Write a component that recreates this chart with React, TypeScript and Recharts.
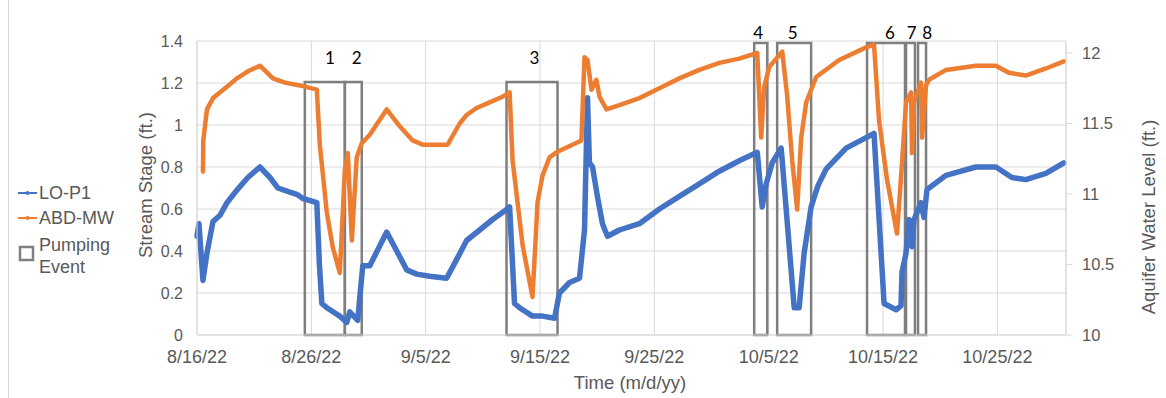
import React from 'react';
import {
  LineChart,
  Line,
  XAxis,
  YAxis,
  CartesianGrid,
  ReferenceArea,
  ReferenceDot,
} from 'recharts';

// Days since 8/16/22 and stream stage (ft.) for LO-P1 (left axis)
const loDays = [0, 0.17, 0.52, 0.87, 1.4, 2.01, 2.62, 3.49, 4.45, 5.5, 6.38, 7.07, 8.12, 8.73, 9.26, 10.48, 10.7, 10.92, 11.35, 12.49, 13.1, 13.36, 14.06, 14.24, 14.5, 15.11, 16.59, 17.47, 18.34, 19.21, 20.35, 21.83, 22.71, 23.58, 24.72, 25.85, 26.9, 27.34, 27.77, 28.21, 29.34, 30.22, 31.27, 31.7, 32.58, 33.45, 33.89, 34.15, 34.32, 34.59, 35.02, 35.46, 35.9, 36.94, 38.69, 40.44, 42.18, 43.93, 45.68, 47.42, 49.0, 49.43, 49.78, 50.31, 51.09, 52.23, 52.66, 53.1, 53.71, 54.3, 55.02, 56.77, 58.52, 59.21, 60.09, 61.14, 61.57, 61.66, 62.01, 62.27, 62.53, 62.71, 63.32, 63.58, 63.84, 64.02, 65.5, 68.12, 69.87, 71.27, 72.49, 74.24, 75.81];
const loValues = [0.47, 0.53, 0.26, 0.39, 0.54, 0.57, 0.63, 0.69, 0.75, 0.8, 0.75, 0.7, 0.68, 0.67, 0.65, 0.63, 0.34, 0.15, 0.13, 0.09, 0.06, 0.11, 0.07, 0.18, 0.33, 0.33, 0.49, 0.4, 0.31, 0.29, 0.28, 0.27, 0.36, 0.45, 0.5, 0.55, 0.59, 0.61, 0.15, 0.13, 0.09, 0.09, 0.08, 0.2, 0.25, 0.27, 0.5, 1.13, 0.82, 0.8, 0.66, 0.53, 0.47, 0.5, 0.53, 0.6, 0.66, 0.72, 0.78, 0.83, 0.87, 0.61, 0.72, 0.82, 0.89, 0.13, 0.13, 0.39, 0.61, 0.71, 0.79, 0.89, 0.94, 0.96, 0.15, 0.12, 0.14, 0.3, 0.39, 0.55, 0.42, 0.55, 0.63, 0.56, 0.69, 0.7, 0.76, 0.8, 0.8, 0.75, 0.74, 0.77, 0.82];

// Days since 8/16/22 and aquifer water level (ft.) for ABD-MW (right axis)
const abdDays = [0.52, 0.55, 0.87, 1.4, 2.62, 3.49, 4.45, 5.5, 6.64, 7.69, 9.0, 10.48, 10.74, 11.35, 11.88, 12.49, 12.93, 13.19, 13.54, 13.97, 14.41, 15.11, 16.59, 17.73, 18.86, 19.74, 21.22, 21.92, 22.97, 23.58, 24.45, 25.59, 26.72, 27.34, 27.6, 28.47, 29.34, 29.61, 29.78, 30.22, 30.83, 31.53, 33.62, 33.89, 34.15, 34.5, 34.93, 35.2, 35.81, 36.94, 38.69, 40.44, 42.18, 43.93, 45.68, 47.42, 49.0, 49.34, 49.61, 50.04, 51.18, 51.61, 52.05, 52.49, 52.84, 53.28, 54.15, 56.16, 58.52, 59.21, 59.65, 60.35, 61.22, 61.66, 62.01, 62.45, 62.53, 62.71, 63.32, 63.41, 63.76, 64.02, 65.5, 68.12, 69.87, 71.0, 72.49, 74.24, 75.81];
const abdValues = [11.16, 11.38, 11.6, 11.68, 11.76, 11.82, 11.87, 11.91, 11.82, 11.79, 11.77, 11.74, 11.35, 10.87, 10.62, 10.44, 11.17, 11.29, 10.67, 11.26, 11.36, 11.42, 11.6, 11.48, 11.38, 11.35, 11.35, 11.35, 11.5, 11.56, 11.61, 11.65, 11.69, 11.72, 11.24, 10.64, 10.27, 10.67, 10.94, 11.13, 11.26, 11.3, 11.38, 11.97, 11.95, 11.74, 11.81, 11.69, 11.6, 11.63, 11.68, 11.75, 11.82, 11.88, 11.93, 11.96, 12.0, 11.4, 11.76, 11.9, 12.01, 11.7, 11.24, 10.89, 11.4, 11.65, 11.83, 11.95, 12.04, 12.06, 11.52, 11.1, 10.72, 11.22, 11.65, 11.72, 11.29, 11.65, 11.79, 11.4, 11.77, 11.81, 11.88, 11.91, 11.91, 11.86, 11.84, 11.89, 11.94];

// Pumping event boxes (days, left-axis top value)
const boxStart = [9.43, 12.93, 27.07, 48.73, 50.74, 58.6, 62.01, 63.06];
const boxEnd = [12.93, 14.41, 31.53, 49.87, 53.71, 61.92, 62.79, 63.76];
const boxTop = [1.205, 1.205, 1.205, 1.39, 1.39, 1.39, 1.39, 1.39];
const boxLabels = ['1', '2', '3', '4', '5', '6', '7', '8'];
const labelDays = [11.62, 13.97, 29.52, 49.08, 52.1, 60.6, 62.5, 63.86];
const labelValues = [1.319, 1.319, 1.319, 1.438, 1.438, 1.438, 1.438, 1.438];

const xTicks = [0, 10, 20, 30, 40, 50, 60, 70];
const xTickLabels = ['8/16/22', '8/26/22', '9/5/22', '9/15/22', '9/25/22', '10/5/22', '10/15/22', '10/25/22'];
const leftTicks = [0, 0.2, 0.4, 0.6, 0.8, 1, 1.2, 1.4];
const rightTicks = [10, 10.5, 11, 11.5, 12];

const loData = loDays.map((d, i) => ({ day: d, v: loValues[i] }));
const abdData = abdDays.map((d, i) => ({ day: d, v: abdValues[i] }));

const BLUE = '#4472C4';
const ORANGE = '#ED7D31';
const GRAY_TEXT = '#595959';
const GRID = '#d9d9d9';
const FONT = 'Liberation Sans, Arial, sans-serif';

export default function App() {
  return (
    <div style={{ position: 'absolute', left: 0, top: 0, width: 1166, height: 398, background: '#fff', fontFamily: FONT }}>
      <div style={{ position: 'absolute', left: 8, top: 0, width: 1, height: 398, background: GRID }} />
      <LineChart
        width={1166}
        height={398}
        margin={{ top: 41, right: 40, bottom: 33, left: 137 }}
      >
        <CartesianGrid yAxisId="left" stroke={GRID} strokeWidth={1} />
        <XAxis
          dataKey="day"
          type="number"
          domain={[0, 76]}
          ticks={xTicks}
          tickFormatter={(v) => xTickLabels[xTicks.indexOf(v)] ?? ''}
          axisLine={{ stroke: GRID }}
          tickLine={false}
          tickMargin={9}
          height={30}
          tick={{ fill: GRAY_TEXT, fontSize: 18, fontFamily: FONT }}
          allowDuplicatedCategory={false}
        />
        <YAxis
          yAxisId="left"
          orientation="left"
          type="number"
          domain={[0, 1.4]}
          ticks={leftTicks}
          width={60}
          axisLine={{ stroke: GRID }}
          tickLine={false}
          tickMargin={8}
          tick={{ fill: GRAY_TEXT, fontSize: 16, fontFamily: FONT }}
        />
        <YAxis
          yAxisId="right"
          orientation="right"
          type="number"
          domain={[10, 12.085]}
          allowDataOverflow
          ticks={rightTicks}
          width={60}
          axisLine={{ stroke: GRID }}
          tickLine={{ stroke: GRID }}
          tickSize={6}
          tickMargin={10}
          tick={{ fill: GRAY_TEXT, fontSize: 16.5, fontFamily: FONT }}
        />
        <Line
          yAxisId="left"
          data={loData}
          dataKey="v"
          type="linear"
          stroke={BLUE}
          strokeWidth={5.5}
          dot={false}
          strokeLinejoin="round"
          strokeLinecap="round"
          isAnimationActive={false}
        />
        <Line
          yAxisId="right"
          data={abdData}
          dataKey="v"
          type="linear"
          stroke={ORANGE}
          strokeWidth={4.5}
          dot={false}
          strokeLinejoin="round"
          strokeLinecap="round"
          isAnimationActive={false}
        />
        {boxStart.map((s, i) => (
          <ReferenceArea
            key={'b' + i}
            yAxisId="left"
            x1={s}
            x2={boxEnd[i]}
            y1={0}
            y2={boxTop[i]}
            stroke="#7f7f7f"
            strokeWidth={2.5}
            fill="none"
            fillOpacity={0}
            ifOverflow="visible"
          />
        ))}
        {boxLabels.map((t, i) => (
          <ReferenceDot
            key={'l' + i}
            yAxisId="left"
            x={labelDays[i]}
            y={labelValues[i]}
            r={0}
            stroke="none"
            fill="none"
            ifOverflow="visible"
            label={{ value: t, position: 'center', fill: '#000', fontSize: 17, fontFamily: 'Lato, Open Sans, sans-serif' }}
          />
        ))}
      </LineChart>

      <div style={{ position: 'absolute', left: 146, top: 185, transform: 'translate(-50%, -50%) rotate(-90deg)', whiteSpace: 'nowrap', color: GRAY_TEXT, fontSize: 18.5 }}>
        Stream Stage (ft.)
      </div>
      <div style={{ position: 'absolute', left: 1149, top: 217, transform: 'translate(-50%, -50%) rotate(-90deg)', whiteSpace: 'nowrap', color: GRAY_TEXT, fontSize: 18.5 }}>
        Aquifer Water Level (ft.)
      </div>
      <div style={{ position: 'absolute', left: 630, top: 383, transform: 'translate(-50%, -50%)', whiteSpace: 'nowrap', color: GRAY_TEXT, fontSize: 18.5 }}>
        Time (m/d/yy)
      </div>

      <div style={{ position: 'absolute', left: 17, top: 180, color: GRAY_TEXT, fontSize: 18, lineHeight: '22px' }}>
        <div style={{ display: 'flex', alignItems: 'center', height: 25 }}>
          <svg width={21} height={10} style={{ marginRight: 1 }}>
            <line x1={1} y1={5} x2={20} y2={5} stroke={BLUE} strokeWidth={2} />
            <circle cx={10.5} cy={5} r={2} fill={BLUE} />
          </svg>
          <span>LO-P1</span>
        </div>
        <div style={{ display: 'flex', alignItems: 'center', height: 25 }}>
          <svg width={21} height={10} style={{ marginRight: 1 }}>
            <line x1={1} y1={5} x2={20} y2={5} stroke={ORANGE} strokeWidth={2} />
            <circle cx={10.5} cy={5} r={2} fill={ORANGE} />
          </svg>
          <span>ABD-MW</span>
        </div>
        <div style={{ display: 'flex', alignItems: 'flex-start', marginTop: 4 }}>
          <svg width={21} height={44} style={{ marginRight: 1 }}>
            <rect x={3} y={13} width={13} height={13} fill="none" stroke="#7f7f7f" strokeWidth={2.5} />
          </svg>
          <span>Pumping<br />Event</span>
        </div>
      </div>
    </div>
  );
}
